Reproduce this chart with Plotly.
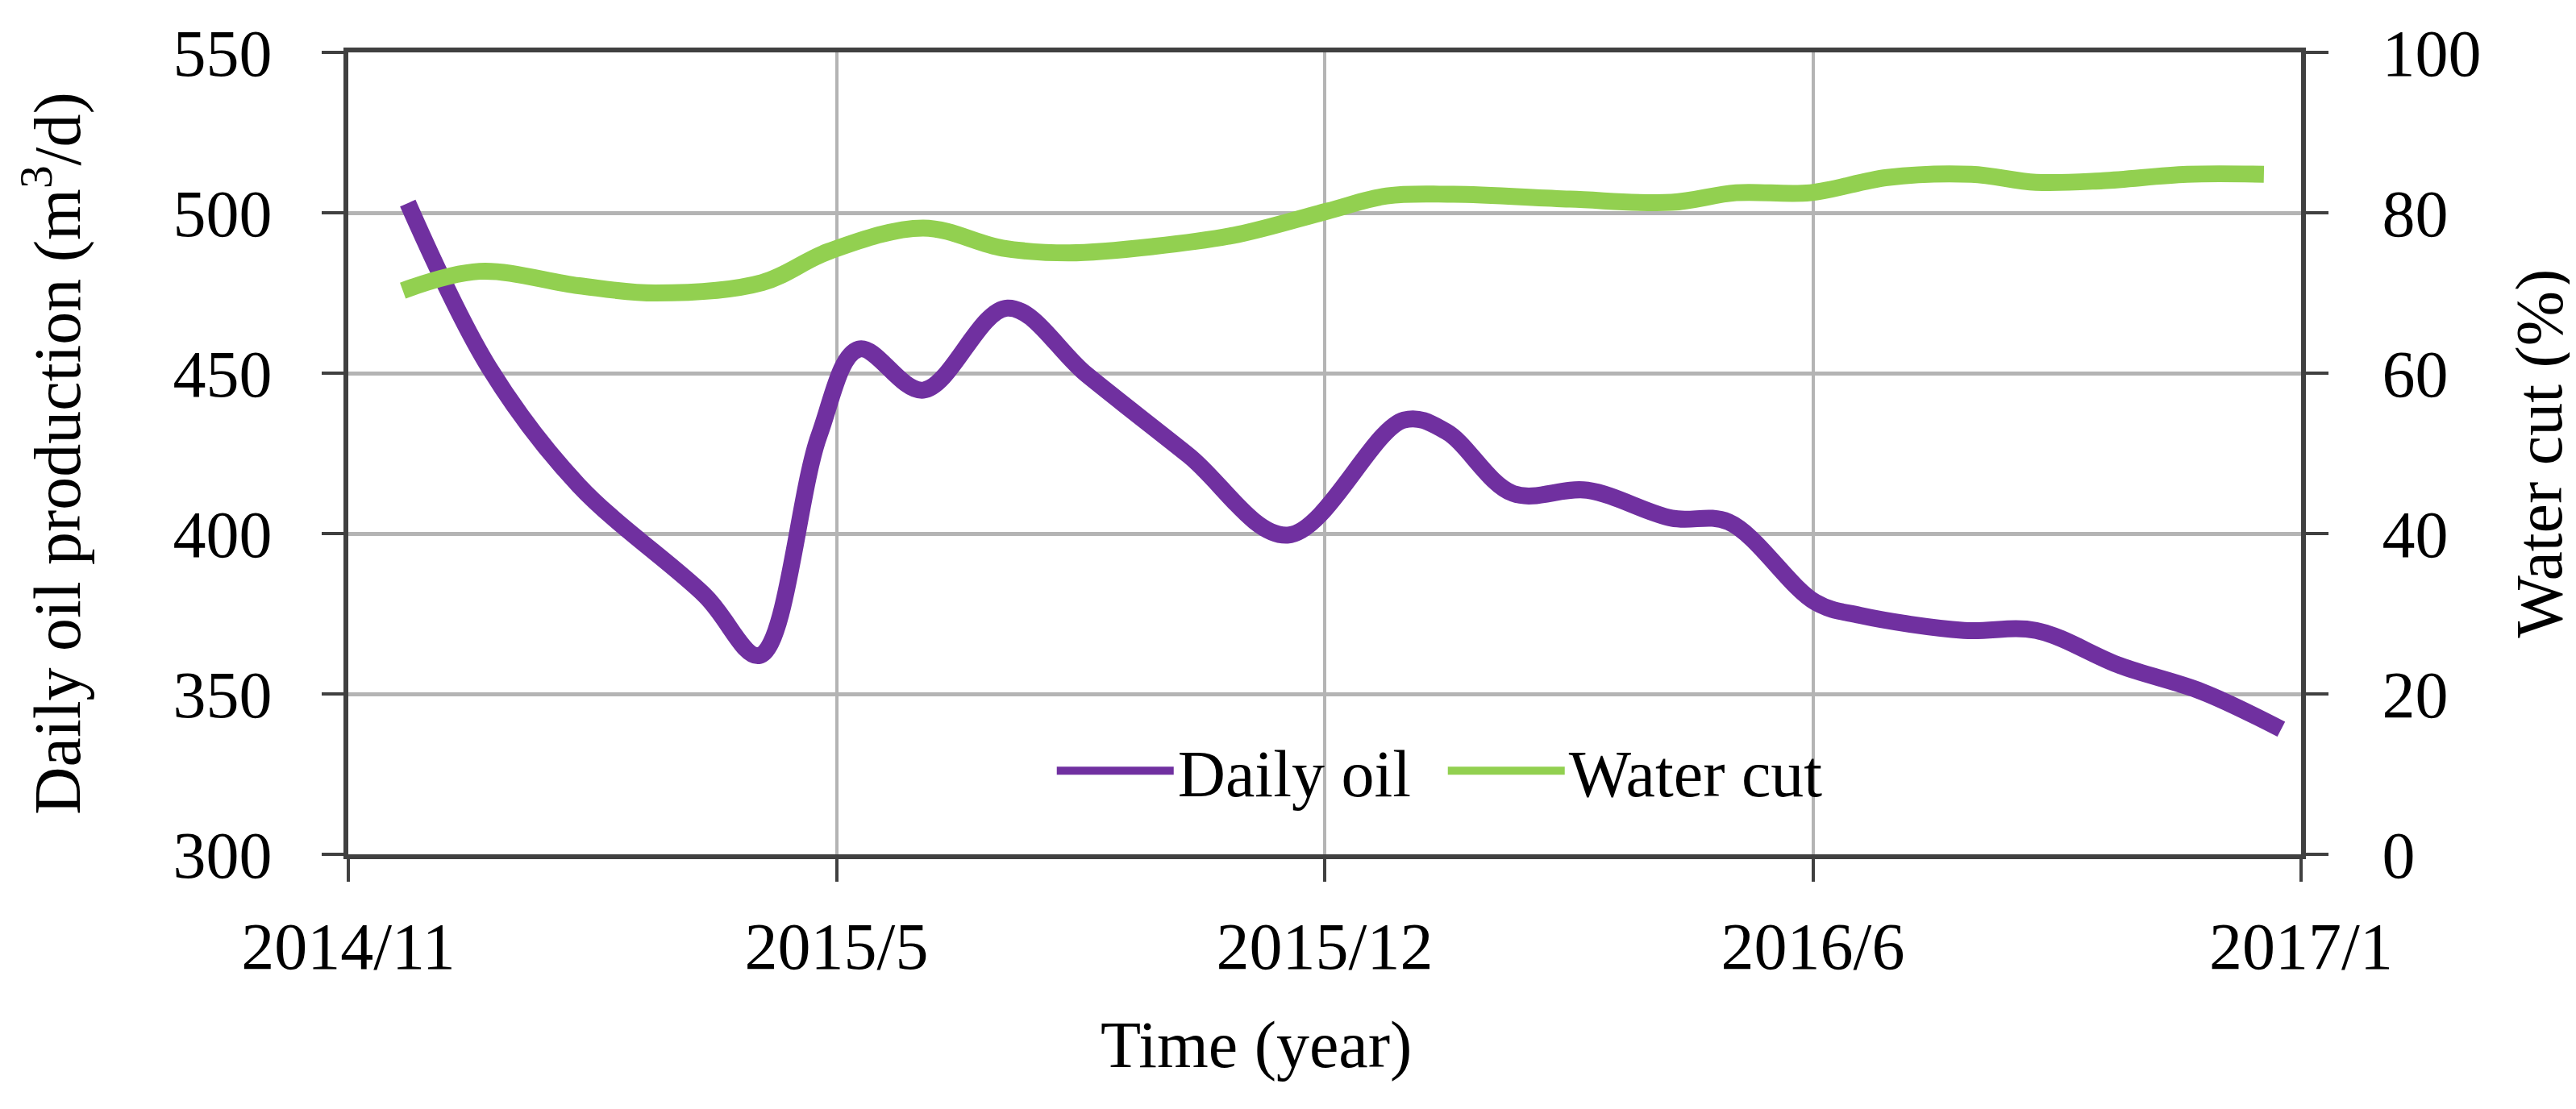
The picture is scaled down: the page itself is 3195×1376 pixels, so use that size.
import pandas as pd
import plotly.graph_objects as go

# ---- data ----
oil_dates = ["2014-12-04", "2015-01-06", "2015-02-11", "2015-04-03", "2015-04-25",
             "2015-05-19", "2015-06-04", "2015-06-30", "2015-08-03", "2015-09-04",
             "2015-10-15", "2015-11-24", "2016-01-10", "2016-01-27", "2016-02-23",
             "2016-03-24", "2016-04-27", "2016-05-20", "2016-06-24", "2016-07-12",
             "2016-08-23", "2016-09-21", "2016-10-25", "2016-11-27", "2016-12-29"]
oil_values = [503, 451.5, 415, 380.6, 362,
              430.6, 457.5, 444.7, 470.3, 449.5,
              424.4, 399.5, 435.4, 431.8, 412.5,
              413.5, 404.8, 403.6, 378.6, 374.5,
              369.8, 369.8, 358.8, 350.7, 339]

wc_dates = ["2014-12-02", "2015-01-02", "2015-02-11", "2015-03-14", "2015-04-26",
            "2015-05-23", "2015-06-30", "2015-08-01", "2015-08-28", "2015-10-01",
            "2015-11-04", "2015-12-10", "2016-01-03", "2016-01-30", "2016-03-17",
            "2016-04-27", "2016-05-23", "2016-06-22", "2016-07-23", "2016-08-26",
            "2016-09-21", "2016-10-18", "2016-11-21", "2016-12-22"]
wc_values = [70.3, 72.7, 70.9, 70.0, 71.3,
             75.2, 78.1, 75.6, 75.0, 75.8,
             77.3, 80.2, 82.1, 82.3, 81.7,
             81.3, 82.5, 82.5, 84.4, 84.8,
             83.8, 84.0, 84.8, 84.8]

x_range = ["2014-11-10", "2017-01-06"]
x_tick_labels = ["2014/11", "2015/5", "2015/12", "2016/6", "2017/1"]

FONT = "Liberation Serif"
FS = 82
AXIS = "#404040"
GRID = "#b4b4b4"

tickvals = pd.date_range(x_range[0], x_range[1], periods=len(x_tick_labels))

fig = go.Figure()
fig.add_trace(go.Scatter(x=oil_dates, y=oil_values, name="Daily oil", mode="lines",
                         line=dict(color="#7030A0", width=21, shape="spline", smoothing=1.0),
                         yaxis="y"))
fig.add_trace(go.Scatter(x=wc_dates, y=wc_values, name="Water cut", mode="lines",
                         line=dict(color="#92D050", width=21, shape="spline", smoothing=1.0),
                         yaxis="y2"))

fig.update_layout(
    width=3195, height=1376,
    margin=dict(l=424, r=349, t=57, b=324),
    paper_bgcolor="white", plot_bgcolor="white",
    font=dict(family=FONT, size=FS, color="black"),
    showlegend=True,
    legend=dict(orientation="h", x=0.561, y=0.104, xanchor="center", yanchor="middle",
                bgcolor="rgba(0,0,0,0)", font=dict(family=FONT, size=FS, color="black"),
                itemwidth=145, entrywidth=325, entrywidthmode="pixels", tracegroupgap=0),
    xaxis=dict(type="date", range=x_range, tickvals=tickvals, ticktext=x_tick_labels,
               showgrid=True, gridcolor=GRID, gridwidth=4,
               showline=True, linecolor=AXIS, linewidth=6, mirror=True,
               ticks="outside", ticklen=28, tickwidth=4, tickcolor=AXIS,
               ticklabelstandoff=10, zeroline=False),
    yaxis=dict(range=[300, 550], dtick=50, tick0=300,
               showgrid=True, gridcolor=GRID, gridwidth=5,
               showline=True, linecolor=AXIS, linewidth=6, mirror=True,
               ticks="outside", ticklen=27, tickwidth=4, tickcolor=AXIS,
               ticklabelstandoff=45, zeroline=False,
               title=dict(text="Daily oil production (m<sup>3</sup>/d)", standoff=90,
                          font=dict(family=FONT, size=FS, color="black"))),
    yaxis2=dict(range=[0, 100], dtick=20, tick0=0, overlaying="y", side="right",
                showgrid=False, showline=True, linecolor=AXIS, linewidth=6,
                ticks="outside", ticklen=28, tickwidth=4, tickcolor=AXIS,
                ticklabelstandoff=50, zeroline=False,
                title=dict(text="Water cut (%)", standoff=45,
                           font=dict(family=FONT, size=FS, color="black"))),
    annotations=[dict(text="Time (year)", xref="paper", yref="paper",
                      x=0.465, y=-0.238, xanchor="center", yanchor="middle",
                      showarrow=False, font=dict(family=FONT, size=FS, color="black"))],
)

fig.write_html("out.html")
